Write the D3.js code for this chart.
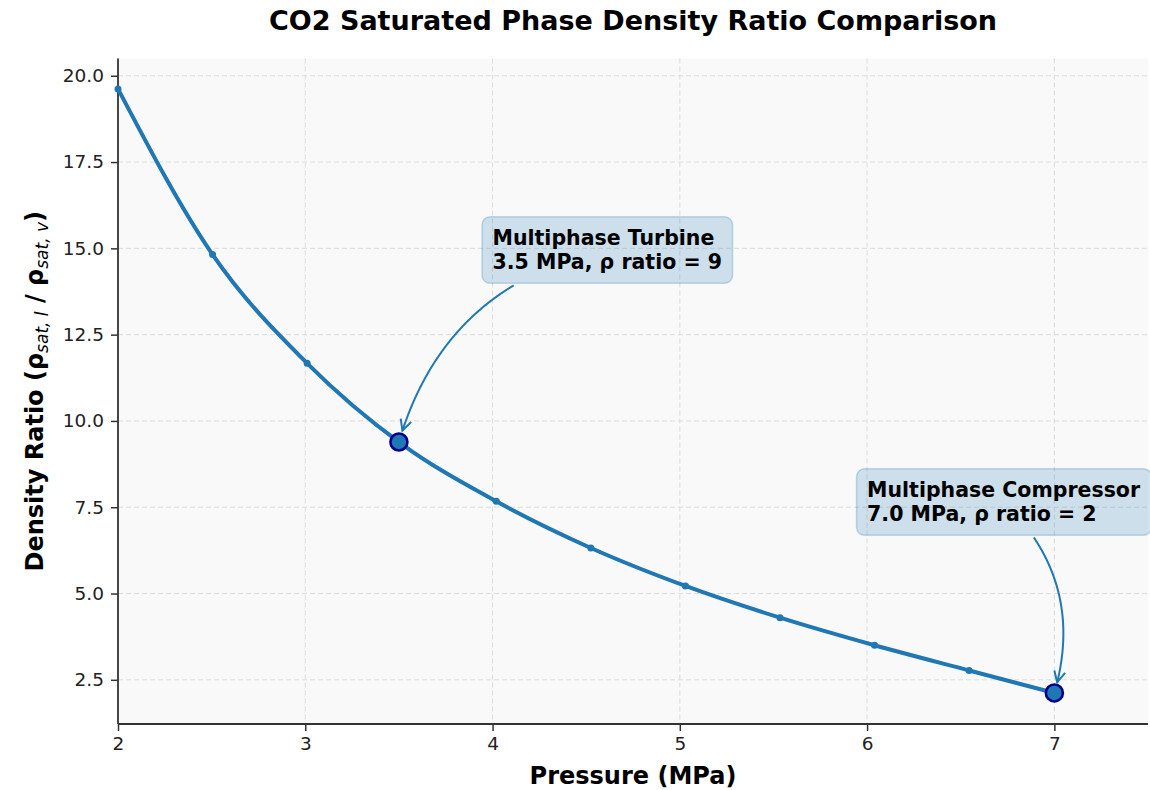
<!DOCTYPE html>
<html>
<head>
<meta charset="utf-8">
<script src="https://cdn.jsdelivr.net/npm/d3@7"></script>
<style>
body { margin: 0; background: #fff; }
text { font-family: "DejaVu Sans", sans-serif; }
</style>
</head>
<body>
<div id="chart-area"></div>
<script>
// saturated liquid/vapour density ratio
var pressure = [2.0, 2.505, 3.01, 3.515, 4.02, 4.525, 5.03, 5.535, 6.04, 6.545, 7.0];
var densityRatio = [19.62, 14.82, 11.67, 9.33, 7.67, 6.32, 5.22, 4.30, 3.50, 2.77, 2.12];

// highlighted operating points
var pointNames = ["Multiphase Turbine", "Multiphase Compressor"];
var pointPressure = [3.5, 7.0];
var pointRatio = [9.39, 2.12];
var pointLabels = ["3.5 MPa, ρ ratio = 9", "7.0 MPa, ρ ratio = 2"];

var xTicks = [2, 3, 4, 5, 6, 7];
var yTicks = [2.5, 5.0, 7.5, 10.0, 12.5, 15.0, 17.5, 20.0];

var W = 1150, H = 790;
var margin = {left: 118, right: 2, top: 58.5, bottom: 66};
var blue = "#1f77b4";

var svg = d3.select("#chart-area").append("svg")
    .attr("width", W)
    .attr("height", H);

var x = d3.scaleLinear().domain([2, 7.5]).range([margin.left, W - margin.right]);
var y = d3.scaleLinear().domain([1.22, 20.5]).range([H - margin.bottom, margin.top]);

// plot background
svg.append("rect")
    .attr("x", margin.left).attr("y", margin.top)
    .attr("width", W - margin.right - margin.left)
    .attr("height", H - margin.bottom - margin.top)
    .attr("fill", "#f9f9f9");

// grid
svg.append("g").selectAll("line").data(xTicks).enter().append("line")
    .attr("x1", d => x(d)).attr("x2", d => x(d))
    .attr("y1", margin.top).attr("y2", H - margin.bottom)
    .attr("stroke", "#dcdcdc").attr("stroke-width", 1).attr("stroke-dasharray", "5,3");
svg.append("g").selectAll("line").data(yTicks).enter().append("line")
    .attr("x1", margin.left).attr("x2", W - margin.right)
    .attr("y1", d => y(d)).attr("y2", d => y(d))
    .attr("stroke", "#dcdcdc").attr("stroke-width", 1).attr("stroke-dasharray", "5,3");

// axes
var xAxis = svg.append("g")
    .attr("transform", "translate(0," + (H - margin.bottom) + ")")
    .call(d3.axisBottom(x).tickValues(xTicks).tickFormat(d3.format("d")).tickSizeOuter(0).tickSize(7).tickPadding(6));
var yAxis = svg.append("g")
    .attr("transform", "translate(" + margin.left + ",0)")
    .call(d3.axisLeft(y).tickValues(yTicks).tickFormat(d3.format(".1f")).tickSizeOuter(0).tickSize(7).tickPadding(7));

[xAxis, yAxis].forEach(function(a) {
    a.select(".domain").attr("stroke", "#333").attr("stroke-width", 1.8);
    a.selectAll(".tick line").attr("stroke", "#333").attr("stroke-width", 1.5);
    a.selectAll(".tick text").attr("fill", "#222").attr("font-size", "18.5px")
        .attr("font-family", "DejaVu Sans");
});
// x axis line should run the full width
xAxis.select(".domain").attr("d", "M" + margin.left + ",0H" + (W - margin.right));
yAxis.select(".domain").attr("d", "M0," + margin.top + "V" + (H - margin.bottom));

// curve
var pts = pressure.map((p, i) => [p, densityRatio[i]]);
var line = d3.line()
    .x(d => x(d[0]))
    .y(d => y(d[1]))
    .curve(d3.curveMonotoneX);

svg.append("path")
    .datum(pts)
    .attr("d", line)
    .attr("fill", "none")
    .attr("stroke", blue)
    .attr("stroke-width", 4)
    .attr("stroke-linecap", "round");

// small markers (all but the last sample)
svg.append("g").selectAll("circle").data(pts.slice(0, pts.length - 1)).enter().append("circle")
    .attr("cx", d => x(d[0]))
    .attr("cy", d => y(d[1]))
    .attr("r", 3.5)
    .attr("fill", blue);

// highlighted points
var hi = pointPressure.map((p, i) => [p, pointRatio[i]]);
svg.append("g").selectAll("circle").data(hi).enter().append("circle")
    .attr("cx", d => x(d[0]))
    .attr("cy", d => y(d[1]))
    .attr("r", 8.5)
    .attr("fill", blue)
    .attr("stroke", "#00008b")
    .attr("stroke-width", 2.6);

// annotations
var textAt = [[4.0, 14.9], [6.0, 7.6]];
var rads = [0.3, -0.3];
var pad = 10.5;

hi.forEach(function(d, i) {
    var g = svg.append("g");
    var tx = x(textAt[i][0]), ty = y(textAt[i][1]);
    var rect = g.append("rect");
    var t = g.append("text")
        .attr("font-weight", "bold")
        .attr("font-size", "20.5px")
        .attr("fill", "#000");
    t.append("tspan").attr("x", tx).attr("y", ty - 6.5).text(pointNames[i]);
    t.append("tspan").attr("x", tx).attr("y", ty + 17).text(pointLabels[i]);
    var bb = t.node().getBBox();
    var box = {x0: bb.x - pad, y0: bb.y - pad + 1, x1: bb.x + bb.width + pad, y1: bb.y + bb.height + pad - 1};
    rect.attr("x", box.x0).attr("y", box.y0)
        .attr("width", box.x1 - box.x0).attr("height", box.y1 - box.y0)
        .attr("rx", 8).attr("ry", 8)
        .attr("fill", blue).attr("fill-opacity", 0.2)
        .attr("stroke", blue).attr("stroke-opacity", 0.25).attr("stroke-width", 1.5);

    // arc3-like connector from box centre to the point
    var p0 = [(box.x0 + box.x1) / 2, (box.y0 + box.y1) / 2];
    var p2 = [x(d[0]), y(d[1])];
    var dx = p2[0] - p0[0], dy = p2[1] - p0[1];
    var c = [(p0[0] + p2[0]) / 2 - rads[i] * dy, (p0[1] + p2[1]) / 2 + rads[i] * dx];
    var curvePts = d3.range(0, 1.0001, 0.004).map(function(s) {
        return [
            (1 - s) * (1 - s) * p0[0] + 2 * s * (1 - s) * c[0] + s * s * p2[0],
            (1 - s) * (1 - s) * p0[1] + 2 * s * (1 - s) * c[1] + s * s * p2[1]
        ];
    }).filter(function(p) {
        var inBox = p[0] > box.x0 - 2 && p[0] < box.x1 + 2 && p[1] > box.y0 - 2 && p[1] < box.y1 + 2;
        var dist = Math.hypot(p[0] - p2[0], p[1] - p2[1]);
        return !inBox && dist > 10.5;
    });

    svg.append("path")
        .attr("d", d3.line()(curvePts))
        .attr("fill", "none")
        .attr("stroke", blue)
        .attr("stroke-width", 2);

    var e = curvePts[curvePts.length - 1];
    var b = curvePts[curvePts.length - 4];
    var a = Math.atan2(e[1] - b[1], e[0] - b[0]);
    var L = 11, Wd = 5.5;
    var left = [e[0] - L * Math.cos(a) - Wd * Math.sin(a), e[1] - L * Math.sin(a) + Wd * Math.cos(a)];
    var right = [e[0] - L * Math.cos(a) + Wd * Math.sin(a), e[1] - L * Math.sin(a) - Wd * Math.cos(a)];
    svg.append("path")
        .attr("d", d3.line()([left, e, right]))
        .attr("fill", "none")
        .attr("stroke", blue)
        .attr("stroke-width", 2)
        .attr("stroke-linejoin", "miter");
});

// title
svg.append("text")
    .attr("x", (margin.left + W - margin.right) / 2)
    .attr("y", 30)
    .attr("text-anchor", "middle")
    .attr("font-weight", "bold")
    .attr("font-size", "27px")
    .text("CO2 Saturated Phase Density Ratio Comparison");

// axis labels
svg.append("text")
    .attr("x", (margin.left + W - margin.right) / 2)
    .attr("y", 784)
    .attr("text-anchor", "middle")
    .attr("font-weight", "bold")
    .attr("font-size", "24px")
    .text("Pressure (MPa)");

var yl = svg.append("text")
    .attr("transform", "translate(43," + ((margin.top + H - margin.bottom) / 2) + ") rotate(-90)")
    .attr("text-anchor", "middle")
    .attr("font-weight", "bold")
    .attr("font-size", "24px");
yl.append("tspan").text("Density Ratio (ρ");
yl.append("tspan").attr("dy", 5).attr("font-size", "17px").attr("font-style", "italic").attr("font-weight", "normal").text("sat, l");
yl.append("tspan").attr("dy", -5).text(" / ρ");
yl.append("tspan").attr("dy", 5).attr("font-size", "17px").attr("font-style", "italic").attr("font-weight", "normal").text("sat, v");
yl.append("tspan").attr("dy", -5).text(")");
</script>
</body>
</html>
